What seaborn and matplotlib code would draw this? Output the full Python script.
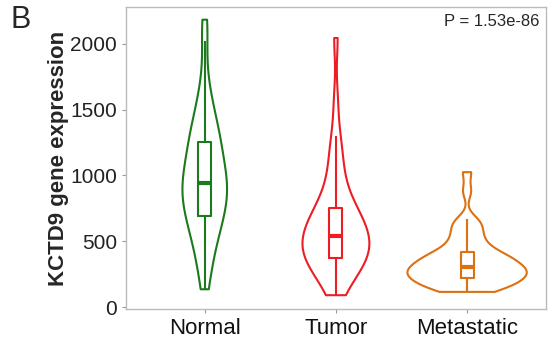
import numpy as np
import pandas as pd
import matplotlib
matplotlib.use("Agg")
import matplotlib.pyplot as plt
import seaborn as sns

# values (approximate quantiles per group)
groups = ["Normal", "Tumor", "Metastatic"]
normal_vals = [136, 250, 340, 410, 470, 520, 565, 605, 640, 668,
               692, 725, 757, 787, 812, 835, 857, 880, 903, 923,
               942, 966, 992, 1020, 1050, 1082, 1116, 1151, 1188, 1222,
               1252, 1285, 1320, 1360, 1405, 1455, 1520, 1600, 1720, 2018,
               2182]
tumor_vals = [91, 150, 195, 232, 265, 293, 318, 338, 354, 366,
              376, 394, 412, 430, 448, 466, 484, 502, 518, 530,
              540, 558, 578, 598, 620, 642, 665, 688, 711, 731,
              750, 790, 835, 890, 955, 1030, 1120, 1210, 1298, 1560,
              2043]
meta_vals = [116, 127, 138, 149, 160, 171, 182, 193, 204, 215,
             225, 233, 241, 249, 257, 266, 274, 282, 290, 298,
             306, 317, 329, 340, 351, 362, 374, 385, 396, 408,
             419, 445, 475, 505, 535, 570, 610, 640, 667, 880,
             1025]
colors = ["#1b7a1b", "#ee1c25", "#dd7010"]
p_text = "P = 1.53e-86"

# look of each violin (max width in category units, kde smoothing)
violin_widths = [0.34, 0.51, 0.91]
bw_adjusts = [0.8, 0.8, 0.6]

df = pd.DataFrame({
    "group": ["Normal"] * len(normal_vals) + ["Tumor"] * len(tumor_vals) + ["Metastatic"] * len(meta_vals),
    "expr": normal_vals + tumor_vals + meta_vals,
})

sns.set_style("white")
plt.rcParams["font.family"] = ["Liberation Sans", "DejaVu Sans"]

fig = plt.figure(figsize=(5.48, 3.39), dpi=100)
ax = fig.add_axes([0.23, 0.088, 0.766, 0.892])

for g, c, w, bw in zip(groups, colors, violin_widths, bw_adjusts):
    sns.violinplot(data=df[df["group"] == g], x="group", y="expr", order=groups, color=c,
                   fill=False, inner=None, cut=0, density_norm="width", width=w,
                   bw_adjust=bw, linewidth=1.5, ax=ax)
sns.boxplot(data=df, x="group", y="expr", hue="group", order=groups, palette=colors,
            fill=False, width=0.1, showfliers=False, showcaps=False, linewidth=1.5,
            legend=False, medianprops={"linewidth": 3}, ax=ax)

ax.set_xlim(-0.6, 2.6)
ax.set_ylim(-15, 2280)
ax.set_yticks([0, 500, 1000, 1500, 2000])
ax.set_xlabel("")
ax.set_ylabel("KCTD9 gene expression", fontsize=16, fontweight="bold", labelpad=1)
ax.tick_params(axis="y", labelsize=15, length=3, color="#999999", labelcolor="#222222", left=True)
ax.tick_params(axis="x", labelsize=16, length=3, color="#999999", labelcolor="#111111", bottom=True)
for s in ax.spines.values():
    s.set_color("#bbbbbb")
    s.set_linewidth(1)

ax.text(0.985, 0.975, p_text, transform=ax.transAxes, ha="right", va="top", fontsize=12)
fig.text(0.02, 0.985, "B", fontsize=22, ha="left", va="top")

fig.savefig("out.png", dpi=100)
